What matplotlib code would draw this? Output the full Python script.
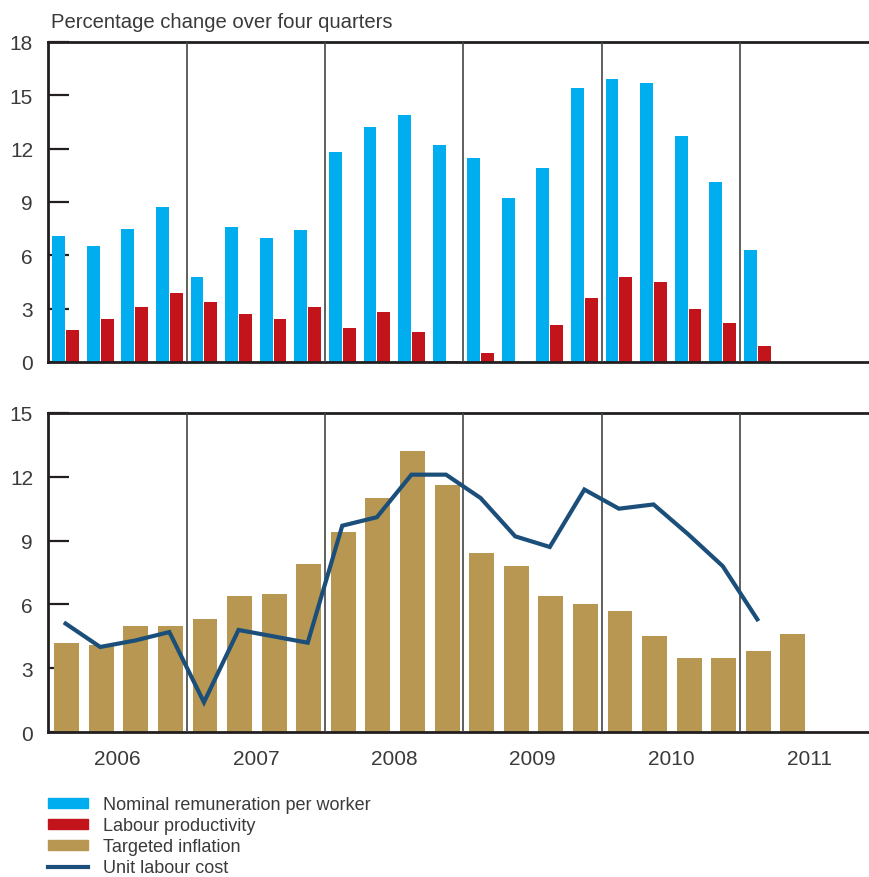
import numpy as np
import matplotlib
matplotlib.use('Agg')
import matplotlib.pyplot as plt
from matplotlib.patches import Patch
from matplotlib.lines import Line2D

plt.rcParams['font.family'] = ['Liberation Sans', 'DejaVu Sans']

# %%
# Data: quarterly, 2006Q1 onwards

years = ['2006', '2007', '2008', '2009', '2010', '2011']

nominal_remuneration = [7.1, 6.5, 7.5, 8.7,
                        4.8, 7.6, 7.0, 7.4,
                        11.8, 13.2, 13.9, 12.2,
                        11.5, 9.2, 10.9, 15.4,
                        15.9, 15.7, 12.7, 10.1,
                        6.3]
labour_productivity = [1.8, 2.4, 3.1, 3.9,
                       3.4, 2.7, 2.4, 3.1,
                       1.9, 2.8, 1.7, 0.08,
                       0.5, 0.0, 2.1, 3.6,
                       4.8, 4.5, 3.0, 2.2,
                       0.9]
targeted_inflation = [4.2, 4.1, 5.0, 5.0,
                      5.3, 6.4, 6.5, 7.9,
                      9.4, 11.0, 13.2, 11.6,
                      8.4, 7.8, 6.4, 6.0,
                      5.7, 4.5, 3.5, 3.5,
                      3.8, 4.6]
unit_labour_cost = [5.1, 4.0, 4.3, 4.7,
                    1.4, 4.8, 4.5, 4.2,
                    9.7, 10.1, 12.1, 12.1,
                    11.0, 9.2, 8.7, 11.4,
                    10.5, 10.7, 9.3, 7.8,
                    5.3]

BLUE = '#00adee'
RED = '#c3131b'
GOLD = '#b79752'
NAVY = '#1b4f7a'
INK = '#231f20'
TXT = '#3a3a3a'

fig = plt.figure(figsize=(8.69, 8.78), dpi=100)
ax1 = fig.add_axes([0.0556, 0.5866, 0.9444, 0.3645])
ax2 = fig.add_axes([0.0556, 0.1651, 0.9444, 0.3634])

XMAX = 23.73


def style(ax, ymax):
    ax.set_xlim(0, XMAX)
    ax.set_ylim(0, ymax)
    ax.set_yticks(np.arange(0, ymax + 1, 3))
    ax.tick_params(axis='y', direction='in', length=15, width=1.6,
                   color=INK, labelsize=15, labelcolor=TXT, pad=11)
    ax.spines['right'].set_visible(False)
    for s in ('left', 'top', 'bottom'):
        ax.spines[s].set_color(INK)
        ax.spines[s].set_linewidth(2.0)
    for q in range(4, 24, 4):
        ax.axvline(q, color='#444444', lw=1.2, zorder=3)


# Top panel
q1 = np.arange(len(nominal_remuneration))
ax1.bar(q1 + 0.3, nominal_remuneration, width=0.37, color=BLUE, zorder=2)
ax1.bar(q1 + 0.7, labour_productivity, width=0.37, color=RED, zorder=2)
style(ax1, 18)
ax1.set_xticks([])
ax1.text(0.003, 1.035, 'Percentage change over four quarters',
         transform=ax1.transAxes, fontsize=14.6, color=TXT, va='bottom')

# Bottom panel
q2 = np.arange(len(targeted_inflation))
q3 = np.arange(len(unit_labour_cost))
ax2.bar(q2 + 0.53, targeted_inflation, width=0.72, color=GOLD, zorder=2)
ax2.plot(q3 + 0.5, unit_labour_cost, color=NAVY, lw=3.0, zorder=4,
         solid_joinstyle='miter')
style(ax2, 15)
ax2.set_xticks(np.arange(len(years)) * 4 + 2)
ax2.set_xticklabels(years)
ax2.tick_params(axis='x', length=0, labelsize=15, labelcolor=TXT, pad=12)

handles = [Patch(color=BLUE), Patch(color=RED), Patch(color=GOLD),
           Line2D([], [], color=NAVY, lw=3)]
labels = ['Nominal remuneration per worker', 'Labour productivity',
          'Targeted inflation', 'Unit labour cost']
fig.legend(handles, labels, loc='upper left', bbox_to_anchor=(0.045, 0.102),
           frameon=False, fontsize=13, handlelength=2.2, handleheight=0.5,
           handletextpad=0.85, labelspacing=0.22, borderpad=0,
           labelcolor=TXT)

fig.savefig('out.png', dpi=100)
